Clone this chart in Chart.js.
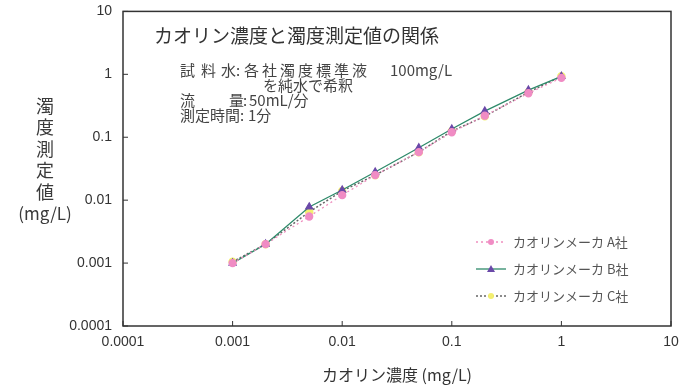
<!DOCTYPE html>
<html>
<head>
<meta charset="utf-8">
<script src="https://cdn.jsdelivr.net/npm/chart.js@4.4.1/dist/chart.umd.min.js"></script>
<style>
  html, body { margin: 0; padding: 0; background: #fff; }
</style>
</head>
<body>
<canvas id="kaolin" width="690" height="390"></canvas>
<script>
// kaolin concentration (mg/L) on x, turbidity readings (mg/L) on y
var concs  = [0.001, 0.002, 0.005, 0.01, 0.02, 0.05, 0.1, 0.2, 0.5, 1];
var makerA = [0.001, 0.002, 0.0055, 0.012, 0.025, 0.058, 0.12, 0.22, 0.5, 0.88];
var makerB = [0.001, 0.002, 0.0078, 0.0145, 0.028, 0.068, 0.135, 0.26, 0.56, 0.93];
var makerC = [0.00105, 0.002, 0.0065, 0.014, 0.025, 0.058, 0.125, 0.215, 0.52, 0.93];
var seriesNames = ["カオリンメーカ A社", "カオリンメーカ B社", "カオリンメーカ C社"];

var tickVals   = [0.0001, 0.001, 0.01, 0.1, 1, 10];
var tickLabels = ["0.0001", "0.001", "0.01", "0.1", "1", "10"];

var chartTitle = "カオリン濃度と濁度測定値の関係";
var xTitle = "カオリン濃度 (mg/L)";
var yTitleChars = ["濁", "度", "測", "定", "値", "(mg/L)"];
// note block: [text, x, y, letter spacing]
var notes = [
  ["試", 180, 70], ["料", 201, 70], ["水", 221, 70], [":", 236, 70], ["各社濁度標準液", 244, 70, 3], ["100mg/L", 390, 70],
  ["を純水で希釈", 263, 85],
  ["流", 180, 100], ["量", 229, 100], [":", 243, 100], ["50mL/分", 249, 100],
  ["測定時間", 180, 115], [":", 240, 115], ["1分", 248, 115]
];

var LATIN = "'Liberation Sans', Arial, 'Noto Sans CJK JP', sans-serif";
var CJK = "'Noto Sans CJK JP', 'Liberation Sans', sans-serif";

function pts(ys) {
  return concs.map(function (c, i) { return { x: c, y: ys[i] }; });
}

var decor = {
  id: 'decor',
  afterDraw: function (chart) {
    var ctx = chart.ctx;
    var a = chart.chartArea;
    var xs = chart.scales.x, ys = chart.scales.y;
    ctx.save();

    // frame
    ctx.strokeStyle = '#333';
    ctx.lineWidth = 1.5;
    ctx.strokeRect(a.left, a.top, a.right - a.left, a.bottom - a.top);

    // inward tick marks
    ctx.lineWidth = 1;
    tickVals.forEach(function (v) {
      var px = xs.getPixelForValue(v);
      ctx.beginPath(); ctx.moveTo(px, a.bottom); ctx.lineTo(px, a.bottom - 5); ctx.stroke();
      var py = ys.getPixelForValue(v);
      ctx.beginPath(); ctx.moveTo(a.left, py); ctx.lineTo(a.left + 5, py); ctx.stroke();
    });

    // y title, stacked
    ctx.fillStyle = '#3a3a3a';
    ctx.textAlign = 'center';
    ctx.textBaseline = 'middle';
    yTitleChars.forEach(function (ch, i) {
      ctx.font = (i < 5 ? '18px ' : '17px ') + CJK;
      ctx.fillText(ch, 45, 106 + i * 21.5);
    });

    // title and notes
    ctx.textAlign = 'left';
    ctx.fillStyle = '#333';
    ctx.font = '19px ' + CJK;
    ctx.fillText(chartTitle, 154, 36);
    ctx.fillStyle = '#444';
    ctx.font = '15px ' + CJK;
    notes.forEach(function (n) {
      ctx.letterSpacing = (n[3] || 0) + 'px';
      ctx.fillText(n[0], n[1], n[2]);
    });
    ctx.letterSpacing = '0px';

    // legend
    chart.data.datasets.forEach(function (ds, i) {
      var y = 242 + i * 27;
      ctx.strokeStyle = ds.borderColor;
      ctx.lineWidth = ds.borderWidth;
      ctx.setLineDash(ds.borderDash || []);
      ctx.beginPath(); ctx.moveTo(476, y); ctx.lineTo(506, y); ctx.stroke();
      ctx.setLineDash([]);
      ctx.fillStyle = ds.pointBackgroundColor;
      ctx.beginPath();
      if (ds.pointStyle === 'triangle') {
        ctx.moveTo(491, y - 4); ctx.lineTo(495, y + 3); ctx.lineTo(487, y + 3); ctx.closePath();
      } else {
        ctx.arc(491, y, 3, 0, Math.PI * 2);
      }
      ctx.fill();
      ctx.fillStyle = '#555';
      ctx.font = '13px ' + CJK;
      ctx.fillText(seriesNames[i], 513, y);
    });
    ctx.restore();
  }
};

new Chart(document.getElementById('kaolin'), {
  type: 'scatter',
  data: {
    datasets: [{
      label: seriesNames[0],
      data: pts(makerA),
      showLine: true,
      borderColor: '#ef8fbf',
      borderWidth: 1.3,
      borderDash: [2, 3],
      pointStyle: 'circle',
      pointRadius: 3.5,
      pointBackgroundColor: '#f08cc4',
      pointBorderColor: '#f08cc4'
    }, {
      label: seriesNames[1],
      data: pts(makerB),
      showLine: true,
      borderColor: '#2e8a6a',
      borderWidth: 1.3,
      pointStyle: 'triangle',
      pointRadius: 4,
      pointBackgroundColor: '#6a48a8',
      pointBorderColor: '#6a48a8'
    }, {
      label: seriesNames[2],
      data: pts(makerC),
      showLine: true,
      borderColor: '#666',
      borderWidth: 1.5,
      borderDash: [2, 2],
      pointStyle: 'circle',
      pointRadius: 3.5,
      pointBackgroundColor: '#f3ef70',
      pointBorderColor: '#f3ef70'
    }]
  },
  options: {
    responsive: false,
    animation: false,
    devicePixelRatio: 1,
    layout: { padding: { left: 0, right: 19, top: 7, bottom: 0 } },
    plugins: { legend: { display: false }, tooltip: { enabled: false } },
    scales: {
      x: {
        type: 'logarithmic',
        min: 0.0001,
        max: 10,
        afterBuildTicks: function (s) { s.ticks = tickVals.map(function (v) { return { value: v }; }); },
        afterFit: function (s) { s.height = 64; },
        grid: { display: false },
        border: { display: false },
        ticks: {
          padding: 0,
          color: '#333',
          font: { family: LATIN, size: 14 },
          maxRotation: 0,
          autoSkip: false,
          callback: function (v) { return tickLabels[tickVals.indexOf(v)]; }
        },
        title: {
          display: true,
          text: xTitle,
          color: '#333',
          font: { family: CJK, size: 16 },
          padding: { top: 0, bottom: 5 }
        }
      },
      y: {
        type: 'logarithmic',
        min: 0.0001,
        max: 10,
        afterBuildTicks: function (s) { s.ticks = tickVals.map(function (v) { return { value: v }; }); },
        afterFit: function (s) { s.width = 123; },
        grid: { display: false },
        border: { display: false },
        ticks: {
          padding: 3,
          color: '#333',
          font: { family: LATIN, size: 14 },
          autoSkip: false,
          callback: function (v) { return tickLabels[tickVals.indexOf(v)]; }
        }
      }
    }
  },
  plugins: [decor]
});
</script>
</body>
</html>
